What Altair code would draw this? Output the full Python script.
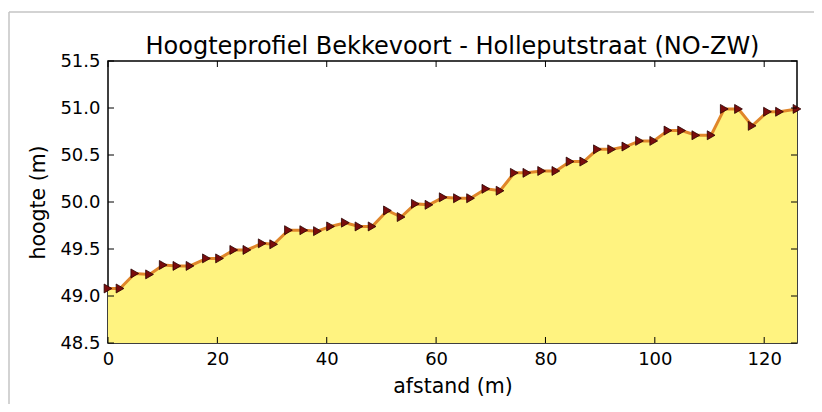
import altair as alt
import pandas as pd

afstand = [0, 2.2, 4.9, 7.6, 10.1, 12.6, 15.0, 18.0, 20.4, 23.0,
           25.4, 28.2, 30.3, 33.0, 35.8, 38.3, 40.7, 43.4, 45.9, 48.3,
           51.1, 53.6, 56.2, 58.7, 61.3, 63.9, 66.3, 69.1, 71.7, 74.3,
           76.6, 79.3, 81.9, 84.5, 87.0, 89.5, 92.1, 94.7, 97.2, 99.8,
           102.4, 104.9, 107.5, 110.3, 112.7, 115.3, 117.8, 120.6, 122.8, 126.0]
hoogte = [49.08, 49.08, 49.24, 49.23, 49.33, 49.32, 49.32, 49.40, 49.40, 49.49,
          49.49, 49.56, 49.55, 49.70, 49.70, 49.69, 49.74, 49.78, 49.74, 49.74,
          49.91, 49.84, 49.98, 49.97, 50.05, 50.04, 50.04, 50.14, 50.12, 50.31,
          50.31, 50.33, 50.33, 50.43, 50.43, 50.56, 50.56, 50.59, 50.65, 50.65,
          50.76, 50.76, 50.71, 50.71, 50.99, 50.99, 50.81, 50.96, 50.96, 50.99]
x_ticks = [0, 20, 40, 60, 80, 100, 120]
y_ticks = [48.5, 49.0, 49.5, 50.0, 50.5, 51.0, 51.5]

titel = "Hoogteprofiel Bekkevoort - Holleputstraat (NO-ZW)"
x_titel = "afstand (m)"
y_titel = "hoogte (m)"

W, H = 689, 282
FONT = "DejaVu Sans"

df = pd.DataFrame({"afstand": afstand, "hoogte": hoogte})
xt = pd.DataFrame({"afstand": x_ticks})
yt = pd.DataFrame({"hoogte": y_ticks})
one = pd.DataFrame({"a": [0]})

xs = alt.Scale(domain=[0, 126], nice=False, zero=False)
ys = alt.Scale(domain=[48.5, 51.5], nice=False, zero=False)

x_axis = alt.Axis(values=x_ticks, grid=False, ticks=False, domain=False, labelFlush=False,
                  labelFontSize=18, titleFontSize=20.5, labelPadding=7, titlePadding=8,
                  labelFont=FONT, titleFont=FONT, labelColor="black", titleColor="black",
                  titleFontWeight="normal", format="d")
y_axis = alt.Axis(values=y_ticks, grid=False, ticks=False, domain=False, labelFlush=False,
                  labelFontSize=18, titleFontSize=20.5, labelPadding=8, titlePadding=11,
                  labelFont=FONT, titleFont=FONT, labelColor="black", titleColor="black",
                  titleFontWeight="normal", format=".1f")

X = alt.X("afstand:Q", scale=xs, axis=x_axis, title=x_titel)
Y = alt.Y("hoogte:Q", scale=ys, axis=y_axis, title=y_titel)

area = alt.Chart(df).mark_area(color="#fff380", opacity=1).encode(
    x=X, y=Y, y2=alt.datum(48.5),
)
line = alt.Chart(df).mark_line(color="#e0862a", strokeWidth=3).encode(x=X, y=Y)
pts = alt.Chart(df).mark_point(shape="triangle-right", filled=True, fill="#7a0c0c",
                               stroke="#2a0000", strokeWidth=0.8, size=80, opacity=1).encode(
    x=X, y=Y)
tick_b = alt.Chart(xt).mark_rule(color="black", strokeWidth=1).encode(
    x=X, y=alt.value(H), y2=alt.value(H - 6))
tick_t = alt.Chart(xt).mark_rule(color="black", strokeWidth=1).encode(
    x=X, y=alt.value(0), y2=alt.value(6))
tick_l = alt.Chart(yt).mark_rule(color="black", strokeWidth=1).encode(
    y=Y, x=alt.value(0), x2=alt.value(6))
tick_r = alt.Chart(yt).mark_rule(color="black", strokeWidth=1).encode(
    y=Y, x=alt.value(W), x2=alt.value(W - 6))
border_l = alt.Chart(one).mark_rule(color="#c4c4c4", strokeWidth=1.5).encode(
    x=alt.value(-99), y=alt.value(-49), y2=alt.value(360))
border_t = alt.Chart(one).mark_rule(color="#c4c4c4", strokeWidth=1.5).encode(
    x=alt.value(-99), x2=alt.value(720), y=alt.value(-49))
title_txt = alt.Chart(one).mark_text(fontSize=24, font=FONT, color="black", align="center",
                                     baseline="alphabetic").encode(
    x=alt.value(W / 2), y=alt.value(-7), text=alt.datum(titel))

chart = alt.layer(area, line, pts, tick_b, tick_t, tick_l, tick_r, border_l, border_t,
                  title_txt).properties(
    width=W, height=H,
    autosize=alt.AutoSizeParams(type="none"),
    padding={"left": 100, "top": 53, "right": 17, "bottom": 61},
).configure(background="white").configure_view(stroke="black", strokeWidth=1.5)

chart.save("out.html", embed_options={"renderer": "svg", "actions": False})
